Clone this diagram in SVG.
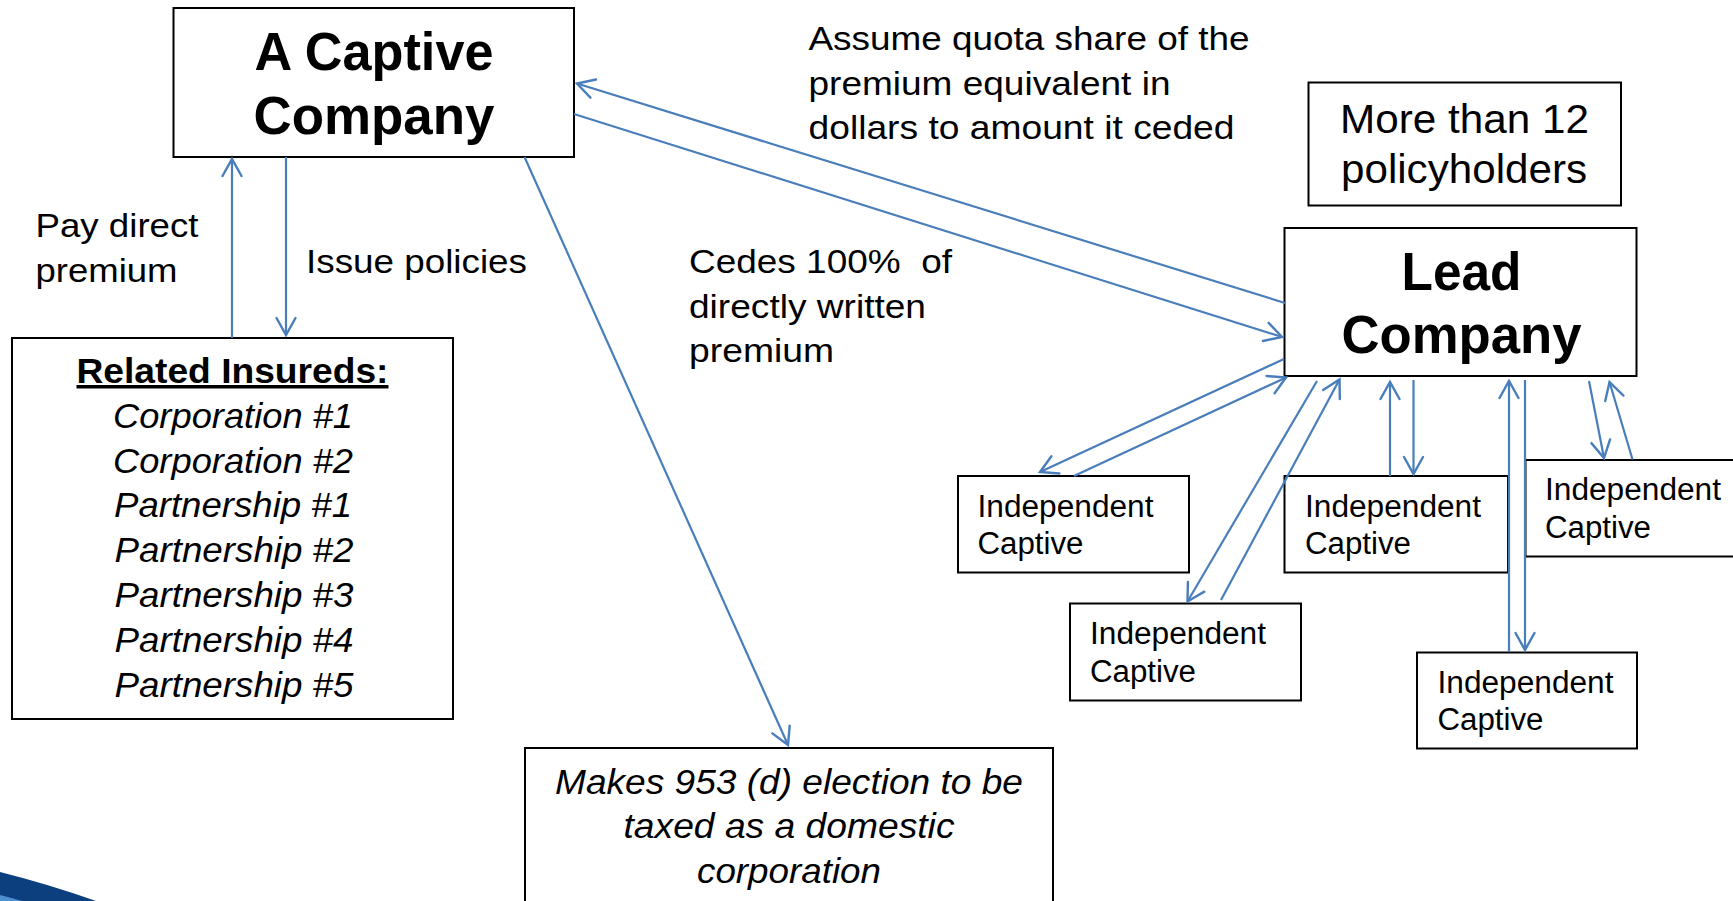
<svg xmlns="http://www.w3.org/2000/svg" width="1733" height="901" viewBox="0 0 1733 901">
  <defs>
    <style>
      .box { fill: #ffffff; stroke: #000000; stroke-width: 2; }
      .t { font-family: "Liberation Sans", Arial, sans-serif; fill: #000000; }
      .title { font-size: 53px; font-weight: bold; text-anchor: middle; }
      .lbl { font-size: 33.5px; }
      .ic { font-size: 31px; }
      .ital { font-style: italic; font-size: 35px; text-anchor: middle; }
      .mid { text-anchor: middle; }
      .edge { stroke: #4A7EBB; stroke-width: 2.2; fill: none; marker-end: url(#arr); }
    </style>
    <marker id="arr" viewBox="-20 -12 24 24" markerWidth="24" markerHeight="24" refX="0" refY="0" orient="auto" markerUnits="userSpaceOnUse">
      <path d="M-17,-9.5 L0,0 L-17,9.5" fill="none" stroke="#4A7EBB" stroke-width="2.4" stroke-linecap="round" stroke-linejoin="miter"/>
    </marker>
  </defs>

  <rect width="1733" height="901" fill="#ffffff"/>

  <!-- logo corner swoosh -->
  <g id="logo-swoosh">
    <path d="M0,872 Q48,884 96,901 L0,901 Z" fill="#0B3F7E"/>
    <path d="M0,895 Q12,898 22,901 L0,901 Z" fill="#4D8FCF"/>
  </g>

  <!-- nodes -->
  <g id="captive-company">
    <rect class="box" x="173.5" y="8" width="400.5" height="149"/>
    <text class="t title" x="374" y="70" textLength="239" lengthAdjust="spacingAndGlyphs">A Captive</text>
    <text class="t title" x="374" y="134" textLength="241" lengthAdjust="spacingAndGlyphs">Company</text>
  </g>

  <g id="related-insureds">
    <rect class="box" x="12" y="338" width="441" height="381"/>
    <text class="t mid" x="232.5" y="383" font-size="35" font-weight="bold" text-decoration="underline" textLength="312" lengthAdjust="spacingAndGlyphs">Related Insureds:</text>
    <text class="t ital" x="233" y="428" textLength="240" lengthAdjust="spacingAndGlyphs">Corporation #1</text>
    <text class="t ital" x="233" y="473" textLength="240" lengthAdjust="spacingAndGlyphs">Corporation #2</text>
    <text class="t ital" x="233" y="517" textLength="238" lengthAdjust="spacingAndGlyphs">Partnership #1</text>
    <text class="t ital" x="234" y="562" textLength="239" lengthAdjust="spacingAndGlyphs">Partnership #2</text>
    <text class="t ital" x="234" y="607" textLength="239" lengthAdjust="spacingAndGlyphs">Partnership #3</text>
    <text class="t ital" x="234" y="652" textLength="239" lengthAdjust="spacingAndGlyphs">Partnership #4</text>
    <text class="t ital" x="234" y="697" textLength="239" lengthAdjust="spacingAndGlyphs">Partnership #5</text>
  </g>

  <g id="election-953d">
    <rect class="box" x="525" y="748" width="528" height="170"/>
    <text class="t ital" x="789" y="794" font-size="33" textLength="468" lengthAdjust="spacingAndGlyphs">Makes 953 (d) election to be</text>
    <text class="t ital" x="789" y="838" font-size="33" textLength="331" lengthAdjust="spacingAndGlyphs">taxed as a domestic</text>
    <text class="t ital" x="789" y="883" font-size="33" textLength="184" lengthAdjust="spacingAndGlyphs">corporation</text>
  </g>

  <g id="policyholders-note">
    <rect class="box" x="1308.5" y="82.5" width="312.5" height="123"/>
    <text class="t mid" x="1464.5" y="133" font-size="41" textLength="249" lengthAdjust="spacingAndGlyphs">More than 12</text>
    <text class="t mid" x="1464" y="183" font-size="41" textLength="246" lengthAdjust="spacingAndGlyphs">policyholders</text>
  </g>

  <g id="lead-company">
    <rect class="box" x="1284.5" y="228" width="352" height="148"/>
    <text class="t title" x="1461.5" y="290" textLength="120" lengthAdjust="spacingAndGlyphs">Lead</text>
    <text class="t title" x="1461.5" y="353" textLength="240" lengthAdjust="spacingAndGlyphs">Company</text>
  </g>

  <g id="independent-captive-1">
    <rect class="box" x="958" y="476" width="231" height="96.5"/>
    <text class="t ic" x="977.5" y="516.5" textLength="176" lengthAdjust="spacingAndGlyphs">Independent</text>
    <text class="t ic" x="977.5" y="554" textLength="106" lengthAdjust="spacingAndGlyphs">Captive</text>
  </g>

  <g id="independent-captive-2">
    <rect class="box" x="1070" y="603.5" width="231" height="97"/>
    <text class="t ic" x="1090" y="644" textLength="176" lengthAdjust="spacingAndGlyphs">Independent</text>
    <text class="t ic" x="1090" y="681.5" textLength="106" lengthAdjust="spacingAndGlyphs">Captive</text>
  </g>

  <g id="independent-captive-3">
    <rect class="box" x="1284.5" y="476" width="223.5" height="96.5"/>
    <text class="t ic" x="1305" y="516.5" textLength="176" lengthAdjust="spacingAndGlyphs">Independent</text>
    <text class="t ic" x="1305" y="554" textLength="106" lengthAdjust="spacingAndGlyphs">Captive</text>
  </g>

  <g id="independent-captive-4">
    <rect class="box" x="1525.5" y="460" width="240" height="96.5"/>
    <text class="t ic" x="1545" y="500" textLength="176" lengthAdjust="spacingAndGlyphs">Independent</text>
    <text class="t ic" x="1545" y="537.5" textLength="106" lengthAdjust="spacingAndGlyphs">Captive</text>
  </g>

  <g id="independent-captive-5">
    <rect class="box" x="1417" y="652.5" width="220" height="96"/>
    <text class="t ic" x="1437.5" y="692.5" textLength="176" lengthAdjust="spacingAndGlyphs">Independent</text>
    <text class="t ic" x="1437.5" y="730" textLength="106" lengthAdjust="spacingAndGlyphs">Captive</text>
  </g>

  <!-- connectors -->
  <g id="connectors">
    <line class="edge" x1="232" y1="338" x2="232" y2="159"/>
    <line class="edge" x1="286" y1="157" x2="286" y2="335"/>
    <line class="edge" x1="1285" y1="303" x2="577" y2="83.5"/>
    <line class="edge" x1="574" y1="114" x2="1282" y2="337"/>
    <line class="edge" x1="524.5" y1="157" x2="788" y2="745"/>
    <line class="edge" x1="1284" y1="359" x2="1040" y2="472"/>
    <line class="edge" x1="1074" y1="476" x2="1286" y2="377.5"/>
    <line class="edge" x1="1317" y1="381" x2="1187.5" y2="601.5"/>
    <line class="edge" x1="1221" y1="600" x2="1339.5" y2="379.5"/>
    <line class="edge" x1="1390" y1="476" x2="1390" y2="382"/>
    <line class="edge" x1="1413.5" y1="380" x2="1413.5" y2="474"/>
    <line class="edge" x1="1509" y1="652" x2="1509" y2="381"/>
    <line class="edge" x1="1525" y1="380" x2="1525" y2="650"/>
    <line class="edge" x1="1589" y1="381" x2="1604" y2="458"/>
    <line class="edge" x1="1632.5" y1="459.5" x2="1609.5" y2="382"/>
  </g>

  <!-- connector labels -->
  <g id="edge-labels">
    <text class="t lbl" x="35.5" y="237" textLength="163" lengthAdjust="spacingAndGlyphs">Pay direct</text>
    <text class="t lbl" x="35.5" y="282" textLength="142" lengthAdjust="spacingAndGlyphs">premium</text>
    <text class="t lbl" x="306" y="273" font-size="35" textLength="221" lengthAdjust="spacingAndGlyphs">Issue policies</text>
    <text class="t lbl" x="808.5" y="50" font-size="33" textLength="441" lengthAdjust="spacingAndGlyphs">Assume quota share of the</text>
    <text class="t lbl" x="808.5" y="95" font-size="33" textLength="362" lengthAdjust="spacingAndGlyphs">premium equivalent in</text>
    <text class="t lbl" x="808.5" y="139" font-size="33" textLength="426" lengthAdjust="spacingAndGlyphs">dollars to amount it ceded</text>
    <text class="t lbl" x="689" y="273" font-size="33" textLength="263" lengthAdjust="spacingAndGlyphs" style="white-space: pre">Cedes 100%  of</text>
    <text class="t lbl" x="689" y="318" font-size="33" textLength="237" lengthAdjust="spacingAndGlyphs">directly written</text>
    <text class="t lbl" x="689" y="362" font-size="33" textLength="145" lengthAdjust="spacingAndGlyphs">premium</text>
  </g>
</svg>
